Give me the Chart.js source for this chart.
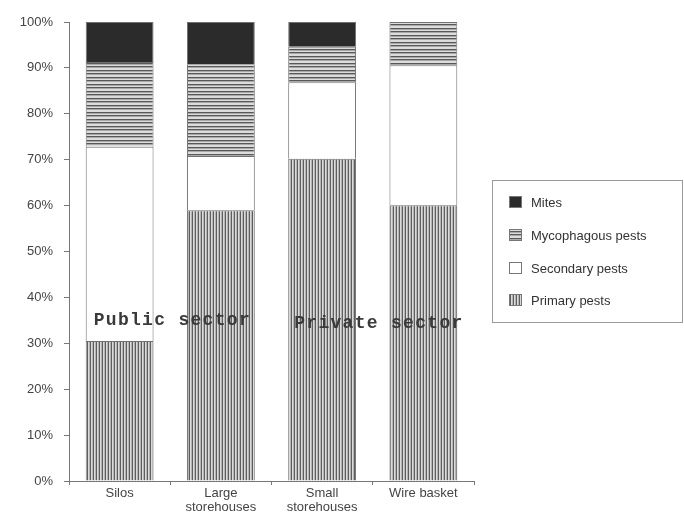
<!DOCTYPE html>
<html>
<head>
<meta charset="utf-8">
<script src="https://cdn.jsdelivr.net/npm/chart.js@4.4.1/dist/chart.umd.min.js"></script>
<style>
  body { margin: 0; background: #fff; }
  #wrap { width: 684px; height: 513px; position: relative; }
</style>
</head>
<body>
<div id="wrap"><canvas id="pestChart"></canvas></div>
<script>
// data (percent of each store type)
var categories = ["Silos", ["Large", "storehouses"], ["Small", "storehouses"], "Wire basket"];
var primaryPests = [30.5, 59.0, 70.2, 60.1];
var secondaryPests = [42.3, 11.8, 16.7, 30.5];
var mycophagousPests = [18.5, 20.0, 7.7, 9.4];
var mites = [8.7, 9.2, 5.4, 0];
var yTicks = [0, 10, 20, 30, 40, 50, 60, 70, 80, 90, 100];

function makePattern(w, h, paint) {
  var c = document.createElement("canvas");
  c.width = w; c.height = h;
  var g = c.getContext("2d");
  paint(g);
  return g.createPattern(c, "repeat");
}

var ctx = document.getElementById("pestChart").getContext("2d");

var vertStripes = makePattern(3, 1, function (g) {
  g.fillStyle = "#dadada"; g.fillRect(0, 0, 3, 1);
  g.fillStyle = "#5e5e5e"; g.fillRect(0, 0, 1, 1);
  g.fillStyle = "#b4b4b4"; g.fillRect(2, 0, 1, 1);
});
var horizStripes = makePattern(1, 7, function (g) {
  g.fillStyle = "#dcdcdc"; g.fillRect(0, 0, 1, 7);
  g.fillStyle = "#585858"; g.fillRect(0, 0, 1, 1); g.fillRect(0, 3, 1, 1);
  g.fillStyle = "#a8a8a8"; g.fillRect(0, 1, 1, 1); g.fillRect(0, 4, 1, 1);
});

// boxed legend at the right, drawn from the datasets
var boxLegend = {
  id: "boxLegend",
  afterDraw: function (chart) {
    var c = chart.ctx;
    c.save();
    c.strokeStyle = "#9a9a9a";
    c.lineWidth = 1;
    c.strokeRect(492.5, 180.5, 190, 142);
    var rows = [202, 235, 268, 300];
    var ds = chart.data.datasets.slice().reverse();
    c.font = "13px 'Liberation Sans', Arial, sans-serif";
    c.textBaseline = "middle";
    ds.forEach(function (d, i) {
      var y = rows[i];
      c.fillStyle = d.backgroundColor;
      c.fillRect(509, y - 6, 13, 12);
      c.strokeStyle = "#777";
      c.strokeRect(509.5, y - 5.5, 12, 11);
      c.fillStyle = "#333";
      c.fillText(d.label, 531, y + 1);
    });
    c.restore();
  }
};

// the "Public sector" / "Private sector" notes across the bars
var sectorNotes = {
  id: "sectorNotes",
  afterDatasetsDraw: function (chart) {
    var c = chart.ctx;
    var bars = chart.getDatasetMeta(0).data;
    var ys = chart.scales.y;
    c.save();
    c.font = "bold 18px 'Liberation Mono', 'Courier New', monospace";
    c.letterSpacing = "1.3px";
    c.fillStyle = "#3a3a3a";
    c.textBaseline = "middle";
    c.fillText("Public sector", bars[0].x - bars[0].width / 2 + 8, ys.getPixelForValue(35));
    c.fillText("Private sector", bars[2].x - bars[2].width / 2 + 6, ys.getPixelForValue(34.3));
    c.restore();
  }
};

var barCommon = { borderColor: "#707070", borderWidth: 1, barPercentage: 0.67, categoryPercentage: 1 };

new Chart(ctx, {
  type: "bar",
  data: {
    labels: categories,
    datasets: [
      Object.assign({ label: "Primary pests", data: primaryPests, backgroundColor: vertStripes }, barCommon),
      Object.assign({ label: "Secondary pests", data: secondaryPests, backgroundColor: "#ffffff" }, barCommon),
      Object.assign({ label: "Mycophagous pests", data: mycophagousPests, backgroundColor: horizStripes }, barCommon),
      Object.assign({ label: "Mites", data: mites, backgroundColor: "#2b2b2b" }, barCommon)
    ]
  },
  options: {
    responsive: true,
    maintainAspectRatio: false,
    animation: false,
    layout: { padding: { top: 22, right: 210, bottom: 0, left: 0 } },
    plugins: {
      legend: { display: false },
      tooltip: { enabled: false }
    },
    scales: {
      x: {
        stacked: true,
        afterFit: function (s) { s.height = 32; },
        border: { color: "#777" },
        grid: { offset: true, drawOnChartArea: false, tickLength: 4, color: "#777" },
        ticks: {
          color: "#444",
          padding: 2,
          maxRotation: 0,
          font: { family: "'Liberation Sans', Arial, sans-serif", size: 13, lineHeight: 1.05 }
        }
      },
      y: {
        stacked: true,
        min: 0,
        max: 100,
        afterFit: function (s) { s.width = 69; },
        afterBuildTicks: function (s) { s.ticks = yTicks.map(function (v) { return { value: v }; }); },
        border: { color: "#777" },
        grid: { drawOnChartArea: false, tickLength: 5, color: "#777" },
        ticks: {
          color: "#444",
          padding: 11,
          font: { family: "'Liberation Sans', Arial, sans-serif", size: 13 },
          callback: function (v) { return v + "%"; }
        }
      }
    }
  },
  plugins: [boxLegend, sectorNotes]
});
</script>
</body>
</html>
